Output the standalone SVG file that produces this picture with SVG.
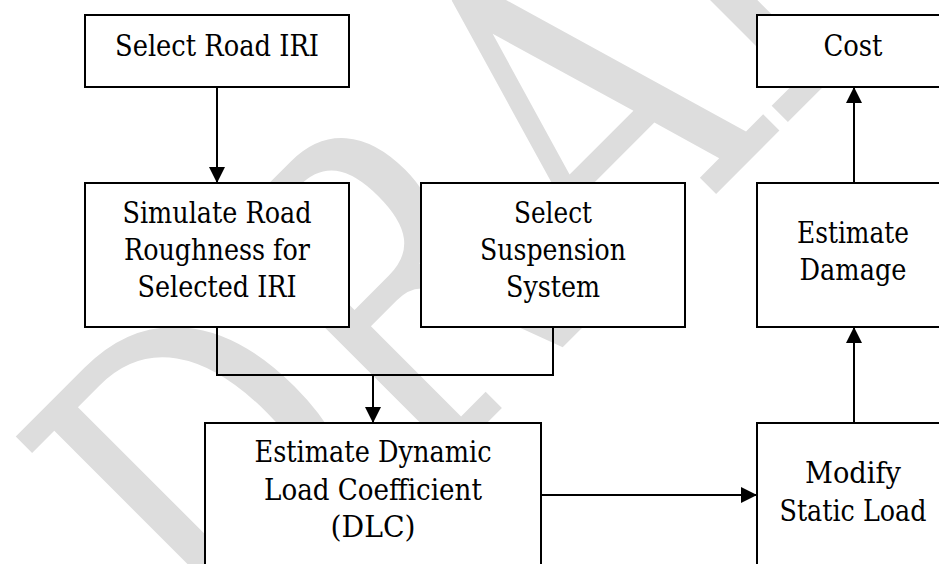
<svg xmlns="http://www.w3.org/2000/svg" width="939" height="564" viewBox="0 0 939 564">
<style>
.box{fill:#ffffff;stroke:#000000;stroke-width:2}
.t{font-family:"DejaVu Serif","Liberation Serif",serif;font-size:29px;fill:#000000;text-anchor:middle}
.c{fill:none;stroke:#000000;stroke-width:2}
.wm{font-family:"DejaVu Serif","Liberation Serif",serif;font-size:444px;fill:#dddddd;text-anchor:middle}
</style>
<defs>
<marker id="ah" markerUnits="userSpaceOnUse" markerWidth="16" markerHeight="16" refX="16" refY="8" orient="auto">
<path d="M0,0 L16,8 L0,16 z" fill="#000000"/>
</marker>
</defs>
<rect width="939" height="564" fill="#ffffff"/>
<g id="watermark" transform="translate(232.5,677.5) rotate(-45) scale(0.76,1)">
<text class="wm" x="176" y="0">D</text>
<text class="wm" x="513" y="0">R</text>
<text class="wm" x="853" y="0">A</text>
<text class="wm" x="1163" y="0">F</text>
<text class="wm" x="1447" y="0">T</text>
</g>
<g id="connectors">
<path class="c" d="M217,87 V183" marker-end="url(#ah)"/>
<path class="c" d="M217,327 V375 H553 V327"/>
<path class="c" d="M373,375 V423" marker-end="url(#ah)"/>
<path class="c" d="M541,495 H757" marker-end="url(#ah)"/>
<path class="c" d="M854,423 V327" marker-end="url(#ah)"/>
<path class="c" d="M854,183 V87" marker-end="url(#ah)"/>
</g>
<g id="select-road-iri">
<rect class="box" x="85" y="15" width="264" height="72"/>
<text class="t" x="217" y="56" textLength="204" lengthAdjust="spacingAndGlyphs">Select Road IRI</text>
</g>
<g id="simulate-road">
<rect class="box" x="85" y="183" width="264" height="144"/>
<text class="t" x="217" y="223" textLength="189" lengthAdjust="spacingAndGlyphs">Simulate Road</text>
<text class="t" x="217" y="260" textLength="186" lengthAdjust="spacingAndGlyphs">Roughness for</text>
<text class="t" x="217" y="297" textLength="159" lengthAdjust="spacingAndGlyphs">Selected IRI</text>
</g>
<g id="select-suspension">
<rect class="box" x="421" y="183" width="264" height="144"/>
<text class="t" x="553" y="223" textLength="78" lengthAdjust="spacingAndGlyphs">Select</text>
<text class="t" x="553" y="260" textLength="146" lengthAdjust="spacingAndGlyphs">Suspension</text>
<text class="t" x="553" y="297" textLength="94" lengthAdjust="spacingAndGlyphs">System</text>
</g>
<g id="cost">
<rect class="box" x="757" y="15" width="200" height="72"/>
<text class="t" x="853" y="56" textLength="59" lengthAdjust="spacingAndGlyphs">Cost</text>
</g>
<g id="estimate-damage">
<rect class="box" x="757" y="183" width="200" height="144"/>
<text class="t" x="853" y="243" textLength="112" lengthAdjust="spacingAndGlyphs">Estimate</text>
<text class="t" x="853" y="280" textLength="107" lengthAdjust="spacingAndGlyphs">Damage</text>
</g>
<g id="estimate-dlc">
<rect class="box" x="205" y="423" width="336" height="200"/>
<text class="t" x="373" y="462" textLength="237" lengthAdjust="spacingAndGlyphs">Estimate Dynamic</text>
<text class="t" x="373" y="500" textLength="218" lengthAdjust="spacingAndGlyphs">Load Coefficient</text>
<text class="t" x="373" y="537" textLength="85" lengthAdjust="spacingAndGlyphs">(DLC)</text>
</g>
<g id="modify-static-load">
<rect class="box" x="757" y="423" width="200" height="200"/>
<text class="t" x="853" y="483" textLength="96" lengthAdjust="spacingAndGlyphs">Modify</text>
<text class="t" x="853" y="521" textLength="147" lengthAdjust="spacingAndGlyphs">Static Load</text>
</g>
</svg>
